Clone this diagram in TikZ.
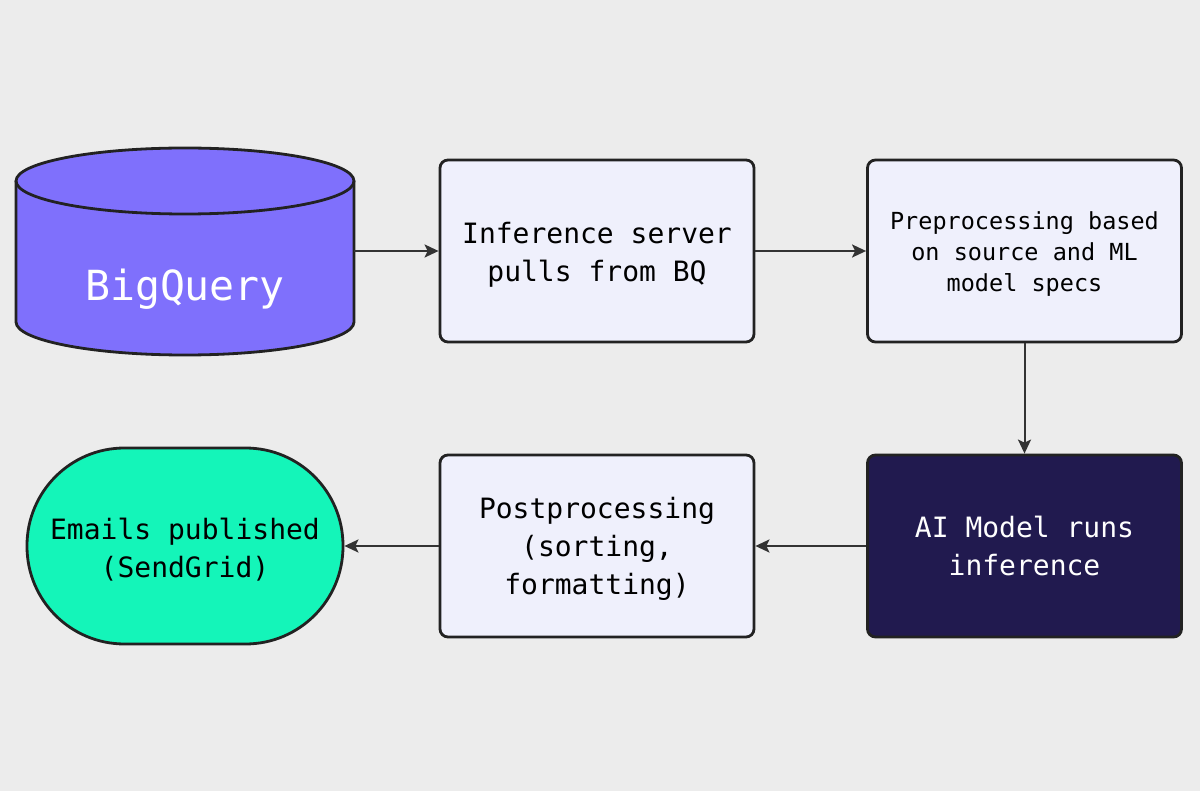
\documentclass[tikz,border=0pt]{standalone}
\usepackage{fontspec}
\setmonofont{DejaVu Sans Mono}
\usetikzlibrary{arrows.meta}
\definecolor{bg}{HTML}{ECECEC}
\definecolor{linec}{HTML}{222222}
\definecolor{arrc}{HTML}{333333}
\definecolor{boxfill}{HTML}{EFF0FC}
\definecolor{cylfill}{HTML}{7F70FC}
\definecolor{darkfill}{HTML}{211A4F}
\definecolor{greenfill}{HTML}{14F5B9}
\newcommand{\toppad}[1]{\rule{0pt}{#1}}
\tikzset{
  flowbox/.style={draw=linec, line width=2.8pt, rounded corners=8pt, fill=boxfill,
    minimum width=314pt, minimum height=182pt, inner sep=0pt, align=center,
    font=\ttfamily\fontsize{28}{38}\selectfont, text=black},
  flowarrow/.style={draw=arrc, line width=2pt, -{Stealth[length=14pt,width=13pt,inset=3pt]}},
}
\begin{document}
\begin{tikzpicture}[x=1pt,y=-1pt]
\fill[bg] (0,0) rectangle (1200,791);
\useasboundingbox (0,0) rectangle (1200,791);

% cylinder
\fill[cylfill] (16,181) -- (16,322) arc[start angle=180,end angle=360,x radius=169,y radius=-33] -- (354,181) arc[start angle=0,end angle=180,x radius=169,y radius=-33] -- cycle;
\draw[linec, line width=2.8pt] (16,181) -- (16,322) arc[start angle=180,end angle=360,x radius=169,y radius=-33] -- (354,181);
\draw[linec, line width=2.8pt] (185,181) ellipse[x radius=169,y radius=33];
\node[minimum width=338pt, minimum height=207pt, inner sep=0pt] (bq) at (185,251) {};
\node[font=\ttfamily\fontsize{41.5}{41.5}\selectfont, text=white] (bqtext) at (185,289) {BigQuery};

\node[flowbox] (pull) at (597,251) {\toppad{28pt}Inference server\\pulls from BQ};
\node[flowbox, font=\ttfamily\fontsize{23.5}{31}\selectfont] (pre) at (1024.5,251) {\toppad{24pt}Preprocessing based\\on source and ML\\model specs};
\node[flowbox, fill=darkfill, text=white] (ai) at (1024.5,546) {AI Model runs\\inference};
\node[flowbox] (post) at (597,546) {\toppad{28pt}Postprocessing\\(sorting,\\formatting)};
\node[flowbox, fill=greenfill, rounded corners=97.5pt, minimum width=316pt, minimum height=196pt] (mail) at (185,546) {\toppad{28pt}Emails published\\(SendGrid)};

\draw[flowarrow] (bq.east) -- (pull.west);
\draw[flowarrow] (pull.east) -- (pre.west);
\draw[flowarrow] (pre.south) -- (ai.north);
\draw[flowarrow] (ai.west) -- (post.east);
\draw[flowarrow] (post.west) -- (mail.east);
\end{tikzpicture}
\end{document}
